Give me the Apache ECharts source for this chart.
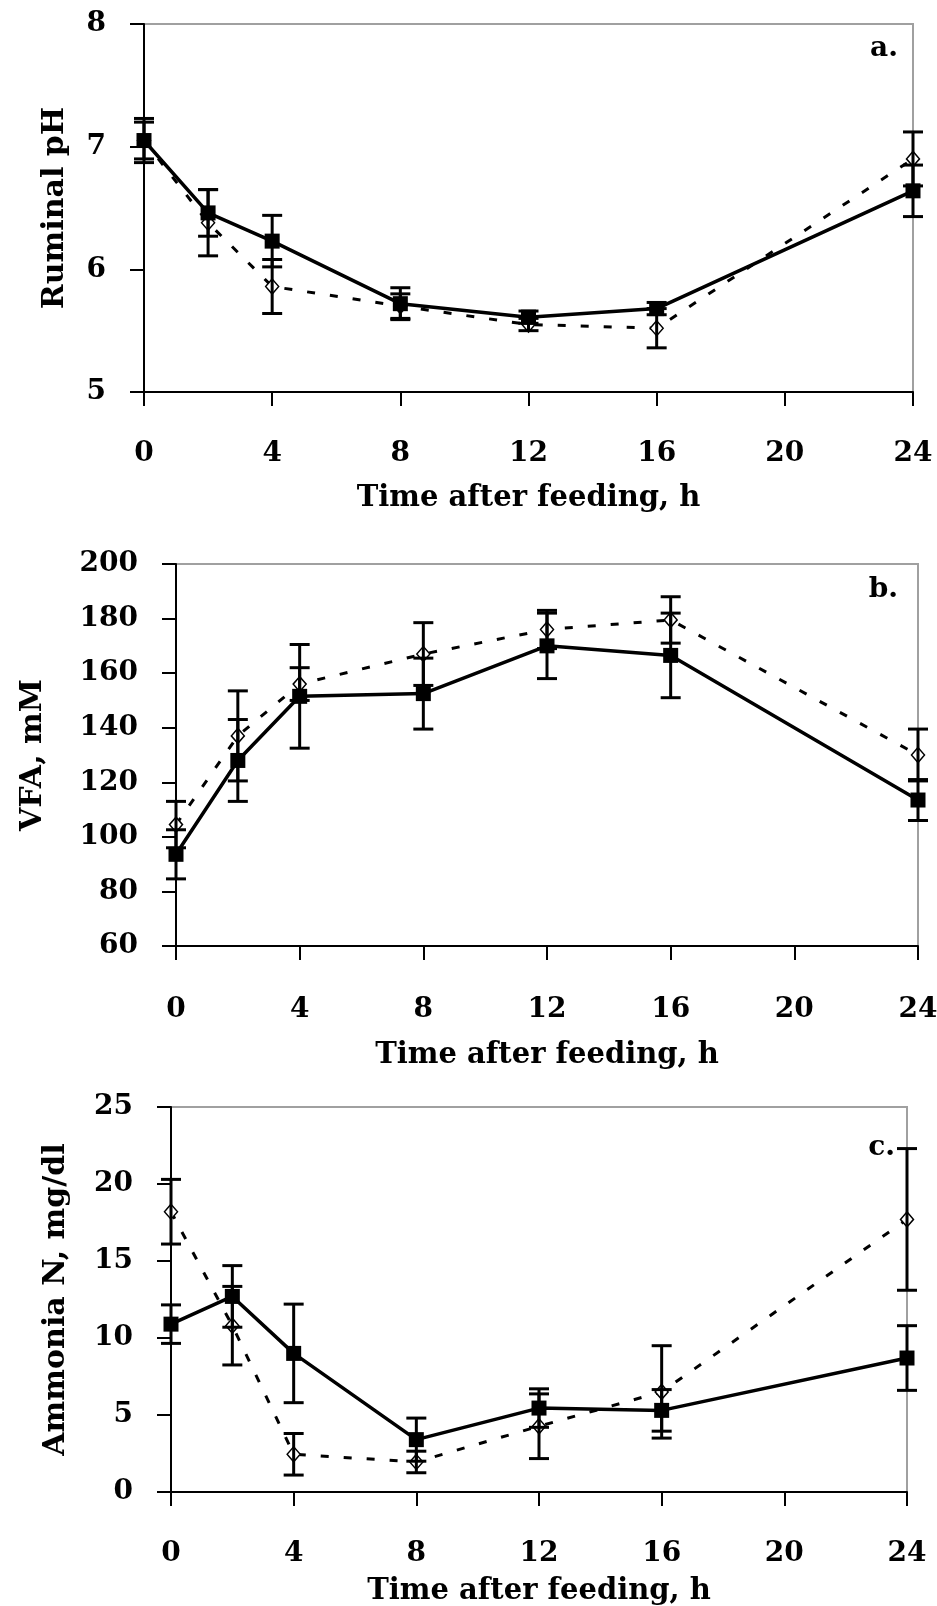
<!DOCTYPE html>
<html><head><meta charset="utf-8">
<script src="https://cdn.jsdelivr.net/npm/echarts@6/dist/echarts.min.js"></script>
<style>html,body{margin:0;padding:0;background:#fff}#c{width:937px;height:1606px}</style>
</head><body><div id="c"></div>
<script>
// ---- data ----
const hours = [0, 2, 4, 8, 12, 16, 24];
const xTickLabels = ['0', '4', '8', '12', '16', '20', '24'];

const phSolid      = [7.05, 6.46, 6.23, 5.72, 5.61, 5.68, 6.64];
const phSolidErr   = [0.18, 0.19, 0.21, 0.13, 0.05, 0.05, 0.21];
const phDashed     = [7.05, 6.38, 5.86, 5.70, 5.55, 5.52, 6.90];
const phDashedErr  = [0.15, 0.27, 0.22, 0.10, 0.05, 0.16, 0.22];

const vfaSolid     = [93.6, 128, 151.5, 152.5, 170, 166.5, 113.5];
const vfaSolidErr  = [9, 15, 19, 13, 12, 15.5, 7.5];
const vfaDashed    = [104.5, 137, 156, 167, 176, 179.5, 130];
const vfaDashedErr = [8.5, 16.5, 6, 11.5, 7, 8.5, 9.5];

const nh3Solid     = [10.9, 12.7, 9.0, 3.4, 5.45, 5.3, 8.7];
const nh3SolidErr  = [1.25, 2.0, 3.2, 1.4, 1.25, 1.35, 2.1];
const nh3Dashed    = [18.2, 10.8, 2.45, 1.95, 4.27, 6.5, 17.7];
const nh3DashedErr = [2.1, 2.55, 1.35, 0.7, 2.1, 3.0, 4.6];

const panelLabels = ['a.', 'b.', 'c.'];
const yNames = ['Ruminal pH', 'VFA, mM', 'Ammonia N, mg/dl'];
const xName = 'Time after feeding, h';
const yMin = [5, 60, 0], yMax = [8, 200, 25], yStep = [1, 20, 5];

// ---- layout / style ----
const grids = [
  {left: 144, top: 24, width: 769, height: 368},
  {left: 176, top: 564, width: 742, height: 382},
  {left: 171, top: 1107, width: 736, height: 385}
];
const yNameGap = [74, 128, 100];
const xNameGap = [92, 95, 85];
const xLabelMargin = [48, 50, 48];
const labelPos = [[898, 49], [898, 590], [895, 1148]];
const FONT = 'DejaVu Serif';

const panels = [
  [phSolid, phSolidErr, phDashed, phDashedErr],
  [vfaSolid, vfaSolidErr, vfaDashed, vfaDashedErr],
  [nh3Solid, nh3SolidErr, nh3Dashed, nh3DashedErr]
];

function errRender(params, api) {
  const x = api.value(0), lo = api.value(1), hi = api.value(2);
  const a = api.coord([x, hi]), b = api.coord([x, lo]);
  const cap = 10;
  const st = {stroke: '#000', lineWidth: 3, fill: null};
  return {type: 'group', children: [
    {type: 'line', shape: {x1: a[0], y1: a[1], x2: b[0], y2: b[1]}, style: st},
    {type: 'line', shape: {x1: a[0] - cap, y1: a[1], x2: a[0] + cap, y2: a[1]}, style: st},
    {type: 'line', shape: {x1: b[0] - cap, y1: b[1], x2: b[0] + cap, y2: b[1]}, style: st}
  ]};
}

const gridOpt = [], xAxes = [], yAxes = [], series = [], graphic = [];
panels.forEach((p, i) => {
  const [s, se, d, de] = p;
  gridOpt.push(Object.assign({show: true, borderColor: '#a0a0a0', borderWidth: 2,
    backgroundColor: '#fff', containLabel: false, outerBoundsMode: 'none'}, grids[i]));
  xAxes.push({
    gridIndex: i, type: 'value', min: 0, max: 24, interval: 4,
    name: xName, nameLocation: 'middle', nameGap: xNameGap[i], nameMoveOverlap: false,
    nameTextStyle: {fontFamily: FONT, fontWeight: 'bold', fontSize: 29, color: '#000'},
    axisLine: {show: true, onZero: false, lineStyle: {color: '#000', width: 2}},
    axisTick: {show: true, inside: false, length: 14, lineStyle: {color: '#000', width: 2}},
    axisLabel: {margin: xLabelMargin[i], fontFamily: FONT, fontWeight: 'bold', fontSize: 28, color: '#000',
      formatter: v => xTickLabels[Math.round(v / 4)]},
    splitLine: {show: false}
  });
  yAxes.push({
    gridIndex: i, type: 'value', min: yMin[i], max: yMax[i], interval: yStep[i],
    name: yNames[i], nameLocation: 'middle', nameGap: yNameGap[i], nameMoveOverlap: false,
    nameTextStyle: {fontFamily: FONT, fontWeight: 'bold', fontSize: 30, color: '#000'},
    axisLine: {show: true, onZero: false, lineStyle: {color: '#000', width: 2}},
    axisTick: {show: true, inside: false, length: 14, lineStyle: {color: '#000', width: 2}},
    axisLabel: {margin: 38, fontFamily: FONT, fontWeight: 'bold', fontSize: 28, color: '#000'},
    splitLine: {show: false}
  });
  series.push({
    type: 'line', xAxisIndex: i, yAxisIndex: i, z: 2,
    data: hours.map((h, k) => [h, d[k]]),
    lineStyle: {color: '#000', width: 3, type: [8, 15]},
    symbol: 'diamond', symbolSize: [13, 15],
    itemStyle: {color: '#fff', borderColor: '#000', borderWidth: 1.5}
  });
  series.push({
    type: 'line', xAxisIndex: i, yAxisIndex: i, z: 3,
    data: hours.map((h, k) => [h, s[k]]),
    lineStyle: {color: '#000', width: 3.5, type: 'solid'},
    symbol: 'rect', symbolSize: 15,
    itemStyle: {color: '#000', borderColor: '#000', borderWidth: 0}
  });
  series.push({
    type: 'custom', xAxisIndex: i, yAxisIndex: i, z: 4, renderItem: errRender,
    data: hours.map((h, k) => [h, d[k] - de[k], d[k] + de[k]]),
    encode: {x: 0, y: [1, 2]}
  });
  series.push({
    type: 'custom', xAxisIndex: i, yAxisIndex: i, z: 4, renderItem: errRender,
    data: hours.map((h, k) => [h, s[k] - se[k], s[k] + se[k]]),
    encode: {x: 0, y: [1, 2]}
  });
  graphic.push({
    type: 'text', x: labelPos[i][0], y: labelPos[i][1], z: 10,
    style: {text: panelLabels[i], fontFamily: FONT, fontWeight: 'bold', fontSize: 28,
      fill: '#000', align: 'right', verticalAlign: 'middle'}
  });
});

const chart = echarts.init(document.getElementById('c'), null, {renderer: 'canvas'});
chart.setOption({
  animation: false,
  backgroundColor: '#fff',
  grid: gridOpt, xAxis: xAxes, yAxis: yAxes, series: series, graphic: graphic
});
</script></body></html>
